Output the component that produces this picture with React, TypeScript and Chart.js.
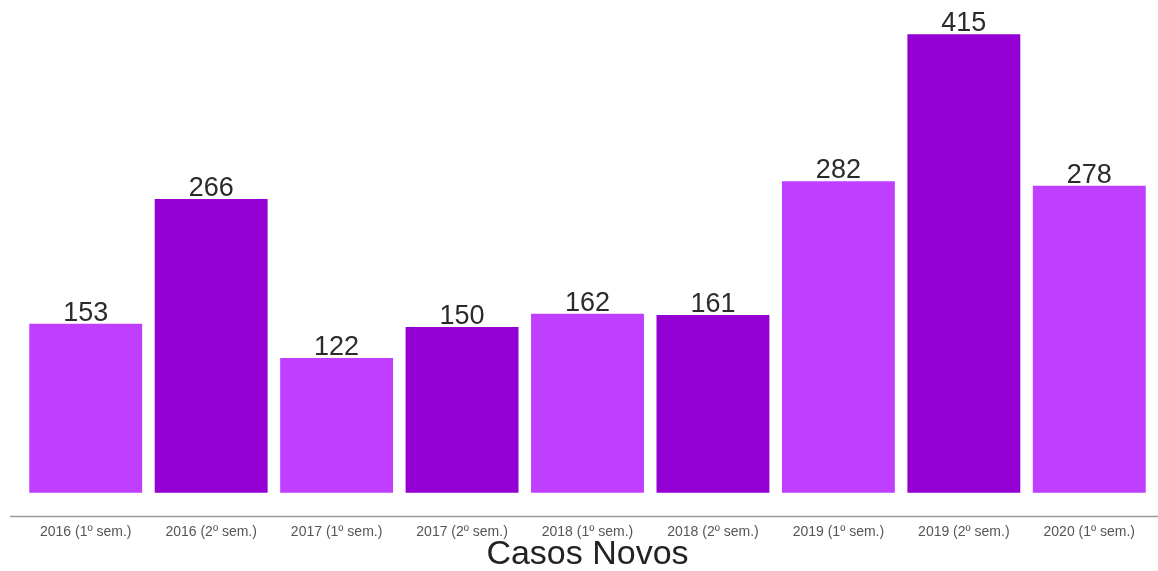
import React, { useEffect, useRef } from "react";
import { Chart, registerables } from "chart.js";

Chart.register(...registerables);

const categories = [
  "2016 (1º sem.)",
  "2016 (2º sem.)",
  "2017 (1º sem.)",
  "2017 (2º sem.)",
  "2018 (1º sem.)",
  "2018 (2º sem.)",
  "2019 (1º sem.)",
  "2019 (2º sem.)",
  "2020 (1º sem.)",
];
const casosNovos = [153, 266, 122, 150, 162, 161, 282, 415, 278];
const barColors = [
  "#BF3EFF", "#9400D3", "#BF3EFF", "#9400D3", "#BF3EFF",
  "#9400D3", "#BF3EFF", "#9400D3", "#BF3EFF",
];
const axisTitle = "Casos Novos";

const FONT = "'Liberation Sans', Arial, sans-serif";

const valueLabels = {
  id: "valueLabels",
  afterDatasetsDraw(chart: any) {
    const ctx = chart.ctx;
    const meta = chart.getDatasetMeta(0);
    ctx.save();
    ctx.font = `27px ${FONT}`;
    ctx.fillStyle = "#2b2b2b";
    ctx.textAlign = "center";
    ctx.textBaseline = "alphabetic";
    meta.data.forEach((el: any, i: number) => {
      ctx.fillText(String(casosNovos[i]), el.x, el.y - 3);
    });
    ctx.restore();
  },
};

const baseLine = {
  id: "baseLine",
  afterDraw(chart: any) {
    const ctx = chart.ctx;
    const y = chart.chartArea.bottom + 0.5;
    ctx.save();
    ctx.strokeStyle = "#9a9a9a";
    ctx.lineWidth = 1.5;
    ctx.beginPath();
    ctx.moveTo(10, y);
    ctx.lineTo(chart.width, y);
    ctx.stroke();
    ctx.restore();
  },
};

export default function App() {
  const ref = useRef<HTMLCanvasElement | null>(null);
  useEffect(() => {
    document.body.style.margin = "0";
    const chart = new Chart(ref.current as HTMLCanvasElement, {
      type: "bar",
      data: {
        labels: categories,
        datasets: [
          {
            data: casosNovos,
            backgroundColor: barColors,
            barPercentage: 0.9,
            categoryPercentage: 1,
          },
        ],
      },
      options: {
        animation: false,
        responsive: false,
        layout: { padding: { left: 23, right: 6, top: 10, bottom: 0 } },
        plugins: { legend: { display: false }, tooltip: { enabled: false } },
        scales: {
          y: { display: false, min: -21, max: 437 },
          x: {
            grid: { display: false, drawTicks: false },
            border: { display: false },
            ticks: {
              color: "#555",
              font: { family: FONT, size: 14 },
              padding: 8,
              maxRotation: 0,
              autoSkip: false,
            },
            title: {
              display: true,
              text: axisTitle,
              color: "#222",
              font: { family: FONT, size: 34, lineHeight: 0.95 },
              padding: { top: 0, bottom: 0 },
            },
            afterFit(scale: any) {
              scale.height = 55;
            },
          },
        },
      },
      plugins: [valueLabels, baseLine],
    });
    return () => chart.destroy();
  }, []);
  return (
    <div style={{ width: 1158, height: 571 }}>
      <canvas ref={ref} width={1158} height={571} style={{ display: "block" }} />
    </div>
  );
}
